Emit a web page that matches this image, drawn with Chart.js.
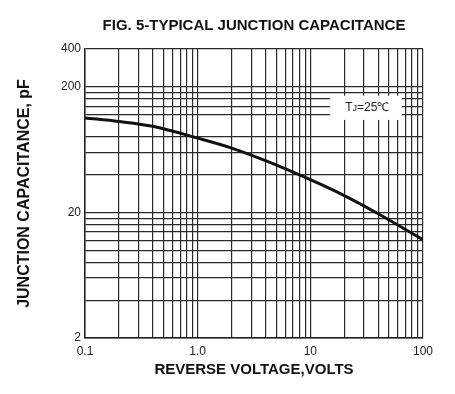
<!DOCTYPE html>
<html>
<head>
<meta charset="utf-8">
<script src="https://cdn.jsdelivr.net/npm/chart.js@4"></script>
<style>
  html, body { margin: 0; padding: 0; background: #fff; }
  #wrap { width: 455px; height: 394px; }
</style>
</head>
<body>
<div id="wrap"><canvas id="myChart"></canvas></div>
<script>
// reverse voltage (V) and junction capacitance (pF)
const voltage = [0.1, 0.2, 0.4, 1, 2, 4, 10, 20, 40, 100];
const capacitance = [113, 106, 97, 78, 65, 51.6, 36.4, 27.2, 19.5, 12.1];

// grid lines and labelled ticks
const xGrid = [0.1, 0.2, 0.3, 0.4, 0.5, 0.6, 0.7, 0.8, 0.9,
               1, 2, 3, 4, 5, 6, 7, 8, 9,
               10, 20, 30, 40, 50, 60, 70, 80, 90, 100];
const xTickValues = [0.1, 1, 10, 100];
const xTickLabels = ['0.1', '1.0', '10', '100'];
const yGrid = [2, 4, 6, 8, 10, 12, 14, 16, 18, 20, 40, 60, 80, 120, 140, 160, 180, 200, 400];
const yTickValues = [2, 20, 200, 400];
const yTickLabels = ['2', '20', '200', '400'];

const font = "'Liberation Sans', Arial, sans-serif";

const data = {
    datasets: [{
        label: 'TJ=25℃',
        data: voltage.map((v, i) => ({x: v, y: capacitance[i]})),
        borderColor: '#111',
        borderWidth: 3,
        pointRadius: 0,
        fill: false,
        cubicInterpolationMode: 'monotone'
    }]
};

// white box with the temperature note
const notePlugin = {
    id: 'note',
    afterDatasetsDraw(chart) {
        const {ctx, scales: {x, y}} = chart;
        const left = x.getPixelForValue(15), right = x.getPixelForValue(65);
        const top = y.getPixelForValue(170), bottom = y.getPixelForValue(109);
        ctx.save();
        ctx.fillStyle = '#fff';
        ctx.fillRect(left, top, right - left, bottom - top);
        ctx.fillStyle = '#222';
        ctx.textBaseline = 'middle';
        const cy = (top + bottom) / 2;
        let cx = left + 15;
        ctx.font = '12px ' + font;
        ctx.fillText('T', cx, cy);
        cx += ctx.measureText('T').width;
        ctx.font = '9px ' + font;
        ctx.fillText('J', cx, cy + 1);
        cx += ctx.measureText('J').width;
        ctx.font = '12px ' + font;
        ctx.fillText('=25℃', cx, cy);
        ctx.restore();
    }
};

const config = {
    type: 'line',
    data: data,
    plugins: [notePlugin],
    options: {
        responsive: true,
        maintainAspectRatio: false,
        animation: false,
        layout: { padding: { left: 0, right: 32, top: 0, bottom: 0 } },
        plugins: {
            legend: { display: false },
            tooltip: { enabled: false },
            title: {
                display: true,
                fullSize: false,
                text: 'FIG. 5-TYPICAL JUNCTION CAPACITANCE',
                color: '#111',
                font: { family: font, size: 15, weight: 'bold' },
                padding: { top: 17, bottom: 14 }
            }
        },
        scales: {
            x: {
                type: 'logarithmic',
                min: 0.1,
                max: 100,
                afterBuildTicks: (scale) => { scale.ticks = xGrid.map(v => ({value: v})); },
                afterFit: (scale) => { scale.height = 56; },
                ticks: {
                    autoSkip: false,
                    maxRotation: 0,
                    padding: 6,
                    color: '#222',
                    font: { family: font, size: 12 },
                    callback: (value) => {
                        const i = xTickValues.findIndex(t => Math.abs(t - value) < 1e-9);
                        return i >= 0 ? xTickLabels[i] : '';
                    }
                },
                grid: { color: '#2a2a2a', lineWidth: 1.2, drawTicks: false },
                border: { color: '#222', width: 1.5 },
                title: {
                    display: true,
                    text: 'REVERSE VOLTAGE,VOLTS',
                    color: '#111',
                    font: { family: font, size: 15, weight: 'bold' },
                    padding: { top: 0, bottom: 15 }
                }
            },
            y: {
                type: 'logarithmic',
                min: 2,
                max: 400,
                afterBuildTicks: (scale) => { scale.ticks = yGrid.map(v => ({value: v})); },
                afterFit: (scale) => { scale.width = 85; },
                ticks: {
                    autoSkip: false,
                    padding: 4,
                    color: '#222',
                    font: { family: font, size: 12 },
                    callback: (value) => {
                        const i = yTickValues.findIndex(t => Math.abs(t - value) < 1e-9);
                        return i >= 0 ? yTickLabels[i] : '';
                    }
                },
                grid: { color: '#2a2a2a', lineWidth: 1.2, drawTicks: false },
                border: { color: '#222', width: 1.5 },
                title: {
                    display: true,
                    text: 'JUNCTION CAPACITANCE, pF',
                    color: '#111',
                    font: { family: font, size: 16, weight: 'bold' },
                    padding: { top: 15, bottom: 0 }
                }
            }
        }
    }
};

const myChart = new Chart(
    document.getElementById('myChart'),
    config
);
</script>
</body>
</html>
